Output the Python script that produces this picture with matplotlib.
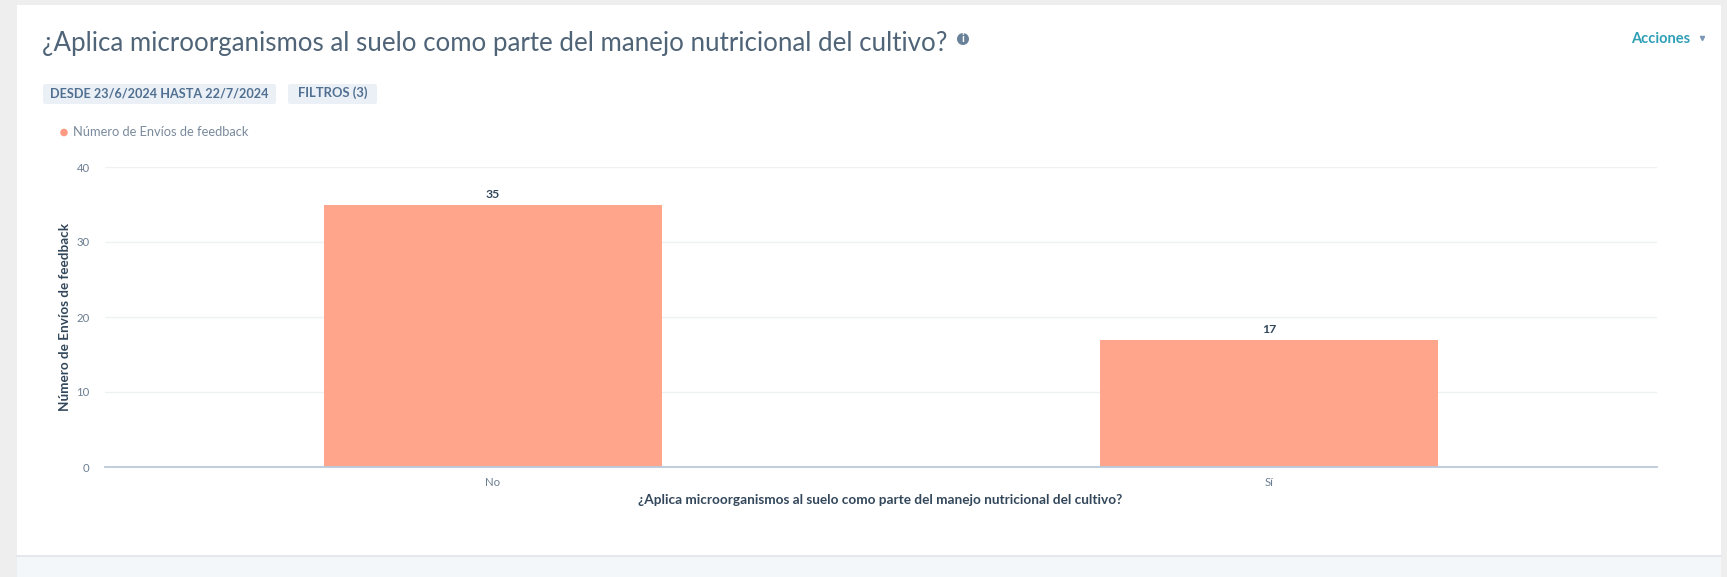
import matplotlib
matplotlib.use('Agg')
import matplotlib.pyplot as plt
from matplotlib.patches import Rectangle, FancyBboxPatch, Circle

categories = ['No', 'Sí']
values = [35, 17]
y_ticks = [0, 10, 20, 30, 40]
title = '¿Aplica microorganismos al suelo como parte del manejo nutricional del cultivo?'
series_name = 'Número de Envíos de feedback'
date_chip = 'DESDE 23/6/2024 HASTA 22/7/2024'
filter_chip = 'FILTROS (3)'

W, H = 1727, 577
plt.rcParams['font.family'] = ['Lato', 'DejaVu Sans']

fig = plt.figure(figsize=(W / 100, H / 100), dpi=100, facecolor='#eeeeee')

# page background, white card, chips: drawn in pixel coords
bg = fig.add_axes([0, 0, 1, 1])
bg.set_xlim(0, W)
bg.set_ylim(H, 0)
bg.axis('off')
bg.add_patch(Rectangle((17, 555), 1704, 22, fc='#f4f7fa', ec='none'))
bg.add_patch(Rectangle((17, 5), 1704, 550, fc='white', ec='none'))
bg.plot([17, 1721], [555.5, 555.5], color='#e4e8ec', lw=1.5)

bg.text(42, 43, title, fontsize=18.68, color='#506478', va='center', ha='left')
bg.add_patch(Circle((963, 39), 6, fc='#6a8299', ec='none'))
bg.text(963, 39, 'i', fontsize=8, color='white', fontweight='bold', ha='center', va='center')
bg.text(1631, 39, 'Acciones', fontsize=10.5, fontweight='bold', color='#2f9fb5', va='center', ha='left')
bg.plot([1702], [38], marker='v', ms=3, color='#7c98b6', ls='none')

bg.add_patch(FancyBboxPatch((45, 86), 229, 16, boxstyle='round,pad=2', fc='#eaf0f6', ec='none'))
bg.add_patch(FancyBboxPatch((290, 86), 85, 16, boxstyle='round,pad=2', fc='#eaf0f6', ec='none'))
bg.text(159.5, 93, date_chip, fontsize=9.1, fontweight='bold', color='#516f90', ha='center', va='center')
bg.text(332.5, 93, filter_chip, fontsize=9.4, fontweight='bold', color='#516f90', ha='center', va='center')

bg.add_patch(Circle((64, 132.5), 3.8, fc='#ff9b84', ec='none'))
bg.text(73, 132, series_name, fontsize=9.3, color='#7a8a9c', ha='left', va='center')

# chart itself
ax = fig.add_axes([105 / W, 1 - 467 / H, (1657 - 105) / W, (467 - 167) / H], facecolor='none')
bars = ax.bar(categories, values, width=0.436, color='#ffa58c', zorder=3)
ax.set_xlim(-0.5, 1.5)
ax.set_ylim(0, 40)
ax.set_yticks(y_ticks)
ax.grid(axis='y', color='#eef1f4', lw=1, zorder=0)
ax.set_axisbelow(True)
for s in ['top', 'left', 'right']:
    ax.spines[s].set_visible(False)
ax.spines['bottom'].set_color('#b9c9da')
ax.spines['bottom'].set_linewidth(1.3)
ax.spines['bottom'].set_zorder(4)
ax.tick_params(axis='both', length=0, labelsize=8.2, labelcolor='#6b7d90')
ax.tick_params(axis='y', pad=11)
ax.tick_params(axis='x', pad=7)

ax.bar_label(bars, labels=[str(v) for v in values], padding=3.5, fontsize=8.8,
             fontweight='bold', color='#33475b')

bg.text(880, 500, title, fontsize=9.85, fontweight='bold', color='#33475b', ha='center', va='center')
bg.text(65, 317, series_name, fontsize=9.7, fontweight='bold', color='#33475b',
        rotation=90, ha='center', va='center')

fig.savefig('out.png', dpi=100, facecolor=fig.get_facecolor())
